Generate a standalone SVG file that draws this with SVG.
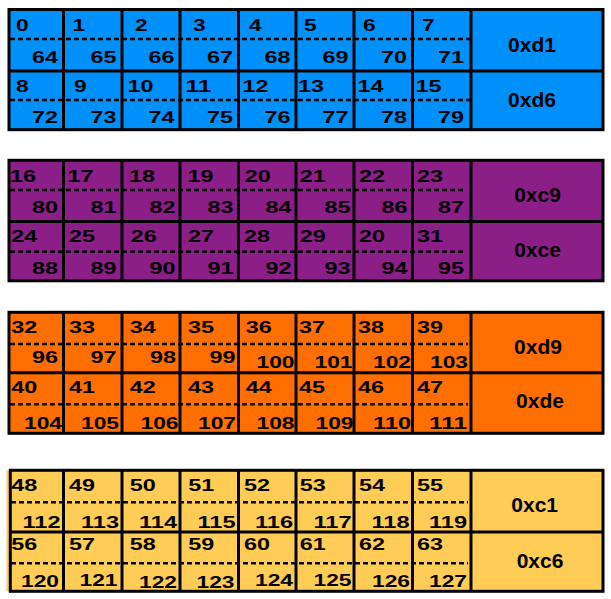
<svg xmlns="http://www.w3.org/2000/svg" width="611" height="599" viewBox="0 0 611 599">
<style>
.num{font-family:"Liberation Sans",Arial,Helvetica,sans-serif;font-weight:bold;font-size:17px;fill:#000}
.end{text-anchor:end}
.lbl{font-family:"Liberation Sans",Arial,Helvetica,sans-serif;font-weight:bold;font-size:21px;fill:#000;text-anchor:middle}
.frame{fill:none;stroke:#000;stroke-width:3}
.div{stroke:#000;stroke-width:3}
.dash{stroke:#000;stroke-width:2.5;stroke-dasharray:5 3}
</style>
<rect width="611" height="599" fill="#fff"/>

<!-- BLUE -->
<g id="block-blue">
<rect x="9" y="9.5" width="594" height="120.2" fill="#0090FA"/>
<g id="grid-blue">
<line class="div" x1="9" y1="71" x2="603" y2="71"/>
<line class="div" x1="63.5" y1="9.5" x2="63.5" y2="129.7"/>
<line class="div" x1="122" y1="9.5" x2="122" y2="129.7"/>
<line class="div" x1="180" y1="9.5" x2="180" y2="129.7"/>
<line class="div" x1="238.5" y1="9.5" x2="238.5" y2="129.7"/>
<line class="div" x1="296" y1="9.5" x2="296" y2="129.7"/>
<line class="div" x1="354" y1="9.5" x2="354" y2="129.7"/>
<line class="div" x1="412.5" y1="9.5" x2="412.5" y2="129.7"/>
<line class="div" x1="471" y1="9.5" x2="471" y2="129.7"/>
<line class="dash" x1="10" y1="39" x2="470" y2="39"/>
<line class="dash" x1="10" y1="100" x2="470" y2="100"/>
<rect class="frame" x="9" y="9.5" width="594" height="120.2"/>
</g>
<g id="cell-0"><text class="num" x="16" y="30.7" textLength="12.7" lengthAdjust="spacingAndGlyphs">0</text><text class="num end" x="58" y="63" textLength="26" lengthAdjust="spacingAndGlyphs">64</text></g>
<g id="cell-1"><text class="num" x="72.5" y="30.7" textLength="12.7" lengthAdjust="spacingAndGlyphs">1</text><text class="num end" x="116.5" y="63" textLength="26" lengthAdjust="spacingAndGlyphs">65</text></g>
<g id="cell-2"><text class="num" x="135" y="30.7" textLength="12.7" lengthAdjust="spacingAndGlyphs">2</text><text class="num end" x="174.5" y="63" textLength="26" lengthAdjust="spacingAndGlyphs">66</text></g>
<g id="cell-3"><text class="num" x="193" y="30.7" textLength="12.7" lengthAdjust="spacingAndGlyphs">3</text><text class="num end" x="233" y="63" textLength="26" lengthAdjust="spacingAndGlyphs">67</text></g>
<g id="cell-4"><text class="num" x="249" y="30.7" textLength="12.7" lengthAdjust="spacingAndGlyphs">4</text><text class="num end" x="290.5" y="63" textLength="26" lengthAdjust="spacingAndGlyphs">68</text></g>
<g id="cell-5"><text class="num" x="304" y="30.7" textLength="12.7" lengthAdjust="spacingAndGlyphs">5</text><text class="num end" x="348.5" y="63" textLength="26" lengthAdjust="spacingAndGlyphs">69</text></g>
<g id="cell-6"><text class="num" x="363" y="30.7" textLength="12.7" lengthAdjust="spacingAndGlyphs">6</text><text class="num end" x="407" y="63" textLength="26" lengthAdjust="spacingAndGlyphs">70</text></g>
<g id="cell-7"><text class="num" x="422" y="30.7" textLength="12.7" lengthAdjust="spacingAndGlyphs">7</text><text class="num end" x="464" y="63" textLength="26" lengthAdjust="spacingAndGlyphs">71</text></g>
<g id="cell-8"><text class="num" x="16" y="91.7" textLength="12.7" lengthAdjust="spacingAndGlyphs">8</text><text class="num end" x="58" y="123" textLength="26" lengthAdjust="spacingAndGlyphs">72</text></g>
<g id="cell-9"><text class="num" x="74" y="91.7" textLength="12.7" lengthAdjust="spacingAndGlyphs">9</text><text class="num end" x="116.5" y="123" textLength="26" lengthAdjust="spacingAndGlyphs">73</text></g>
<g id="cell-10"><text class="num" x="127.5" y="91.7" textLength="26" lengthAdjust="spacingAndGlyphs">10</text><text class="num end" x="174.5" y="123" textLength="26" lengthAdjust="spacingAndGlyphs">74</text></g>
<g id="cell-11"><text class="num" x="185.5" y="91.7" textLength="26" lengthAdjust="spacingAndGlyphs">11</text><text class="num end" x="233" y="123" textLength="26" lengthAdjust="spacingAndGlyphs">75</text></g>
<g id="cell-12"><text class="num" x="242.5" y="91.7" textLength="26" lengthAdjust="spacingAndGlyphs">12</text><text class="num end" x="290.5" y="123" textLength="26" lengthAdjust="spacingAndGlyphs">76</text></g>
<g id="cell-13"><text class="num" x="298" y="91.7" textLength="26" lengthAdjust="spacingAndGlyphs">13</text><text class="num end" x="348.5" y="123" textLength="26" lengthAdjust="spacingAndGlyphs">77</text></g>
<g id="cell-14"><text class="num" x="357.5" y="91.7" textLength="26" lengthAdjust="spacingAndGlyphs">14</text><text class="num end" x="407" y="123" textLength="26" lengthAdjust="spacingAndGlyphs">78</text></g>
<g id="cell-15"><text class="num" x="415.5" y="91.7" textLength="26" lengthAdjust="spacingAndGlyphs">15</text><text class="num end" x="464" y="123" textLength="26" lengthAdjust="spacingAndGlyphs">79</text></g>
<g id="label-0xd1"><text class="lbl" x="532" y="51.7">0xd1</text></g>
<g id="label-0xd6"><text class="lbl" x="532" y="106.5">0xd6</text></g>
</g>

<!-- PURPLE -->
<g id="block-purple">
<rect x="9" y="160.3" width="594" height="120.5" fill="#8C1E87"/>
<g id="grid-purple">
<line class="div" x1="9" y1="221.5" x2="603" y2="221.5"/>
<line class="div" x1="63.5" y1="160.3" x2="63.5" y2="280.8"/>
<line class="div" x1="122" y1="160.3" x2="122" y2="280.8"/>
<line class="div" x1="180" y1="160.3" x2="180" y2="280.8"/>
<line class="div" x1="238.5" y1="160.3" x2="238.5" y2="280.8"/>
<line class="div" x1="296" y1="160.3" x2="296" y2="280.8"/>
<line class="div" x1="354" y1="160.3" x2="354" y2="280.8"/>
<line class="div" x1="412.5" y1="160.3" x2="412.5" y2="280.8"/>
<line class="div" x1="471" y1="160.3" x2="471" y2="280.8"/>
<line class="dash" x1="10" y1="190" x2="466" y2="190"/>
<line class="dash" x1="10" y1="251.7" x2="466" y2="251.7"/>
<rect class="frame" x="9" y="160.3" width="594" height="120.5"/>
</g>
<g id="cell-16"><text class="num" x="10" y="182.3" textLength="26" lengthAdjust="spacingAndGlyphs">16</text><text class="num end" x="58" y="213.3" textLength="26" lengthAdjust="spacingAndGlyphs">80</text></g>
<g id="cell-17"><text class="num" x="67.5" y="182.3" textLength="26" lengthAdjust="spacingAndGlyphs">17</text><text class="num end" x="116.5" y="213.3" textLength="26" lengthAdjust="spacingAndGlyphs">81</text></g>
<g id="cell-18"><text class="num" x="129" y="182.3" textLength="26" lengthAdjust="spacingAndGlyphs">18</text><text class="num end" x="175.5" y="213.3" textLength="26" lengthAdjust="spacingAndGlyphs">82</text></g>
<g id="cell-19"><text class="num" x="187.5" y="182.3" textLength="26" lengthAdjust="spacingAndGlyphs">19</text><text class="num end" x="233.5" y="213.3" textLength="26" lengthAdjust="spacingAndGlyphs">83</text></g>
<g id="cell-20"><text class="num" x="244.7" y="182.3" textLength="26" lengthAdjust="spacingAndGlyphs">20</text><text class="num end" x="291.5" y="213.3" textLength="26" lengthAdjust="spacingAndGlyphs">84</text></g>
<g id="cell-21"><text class="num" x="299.7" y="182.3" textLength="26" lengthAdjust="spacingAndGlyphs">21</text><text class="num end" x="350.5" y="213.3" textLength="26" lengthAdjust="spacingAndGlyphs">85</text></g>
<g id="cell-22"><text class="num" x="359" y="182.3" textLength="26" lengthAdjust="spacingAndGlyphs">22</text><text class="num end" x="407.5" y="213.3" textLength="26" lengthAdjust="spacingAndGlyphs">86</text></g>
<g id="cell-23"><text class="num" x="417" y="182.3" textLength="26" lengthAdjust="spacingAndGlyphs">23</text><text class="num end" x="464" y="213.3" textLength="26" lengthAdjust="spacingAndGlyphs">87</text></g>
<g id="cell-24"><text class="num" x="11.3" y="242.3" textLength="26" lengthAdjust="spacingAndGlyphs">24</text><text class="num end" x="58" y="274" textLength="26" lengthAdjust="spacingAndGlyphs">88</text></g>
<g id="cell-25"><text class="num" x="69" y="242.3" textLength="26" lengthAdjust="spacingAndGlyphs">25</text><text class="num end" x="116.5" y="274" textLength="26" lengthAdjust="spacingAndGlyphs">89</text></g>
<g id="cell-26"><text class="num" x="130.7" y="242.3" textLength="26" lengthAdjust="spacingAndGlyphs">26</text><text class="num end" x="175.5" y="274" textLength="26" lengthAdjust="spacingAndGlyphs">90</text></g>
<g id="cell-27"><text class="num" x="188" y="242.3" textLength="26" lengthAdjust="spacingAndGlyphs">27</text><text class="num end" x="233.5" y="274" textLength="26" lengthAdjust="spacingAndGlyphs">91</text></g>
<g id="cell-28"><text class="num" x="244" y="242.3" textLength="26" lengthAdjust="spacingAndGlyphs">28</text><text class="num end" x="291.5" y="274" textLength="26" lengthAdjust="spacingAndGlyphs">92</text></g>
<g id="cell-29"><text class="num" x="299.7" y="242.3" textLength="26" lengthAdjust="spacingAndGlyphs">29</text><text class="num end" x="350.5" y="274" textLength="26" lengthAdjust="spacingAndGlyphs">93</text></g>
<g id="cell-30"><text class="num" x="359" y="242.3" textLength="26" lengthAdjust="spacingAndGlyphs">20</text><text class="num end" x="407.5" y="274" textLength="26" lengthAdjust="spacingAndGlyphs">94</text></g>
<g id="cell-31"><text class="num" x="417" y="242.3" textLength="26" lengthAdjust="spacingAndGlyphs">31</text><text class="num end" x="464" y="274" textLength="26" lengthAdjust="spacingAndGlyphs">95</text></g>
<g id="label-0xc9"><text class="lbl" x="537.5" y="201.7">0xc9</text></g>
<g id="label-0xce"><text class="lbl" x="537.5" y="256.7">0xce</text></g>
</g>

<!-- ORANGE -->
<g id="block-orange">
<rect x="9" y="312.3" width="594" height="121" fill="#FF6E00"/>
<g id="grid-orange">
<line class="div" x1="9" y1="372.8" x2="603" y2="372.8"/>
<line class="div" x1="63.5" y1="312.3" x2="63.5" y2="433.3"/>
<line class="div" x1="122" y1="312.3" x2="122" y2="433.3"/>
<line class="div" x1="180" y1="312.3" x2="180" y2="433.3"/>
<line class="div" x1="238.5" y1="312.3" x2="238.5" y2="433.3"/>
<line class="div" x1="296" y1="312.3" x2="296" y2="433.3"/>
<line class="div" x1="354" y1="312.3" x2="354" y2="433.3"/>
<line class="div" x1="412.5" y1="312.3" x2="412.5" y2="433.3"/>
<line class="div" x1="471" y1="312.3" x2="471" y2="433.3"/>
<line class="dash" x1="10" y1="344" x2="468" y2="344"/>
<line class="dash" x1="10" y1="404.3" x2="468" y2="404.3"/>
<rect class="frame" x="9" y="312.3" width="594" height="121"/>
</g>
<g id="cell-32"><text class="num" x="11.3" y="333.3" textLength="26" lengthAdjust="spacingAndGlyphs">32</text><text class="num end" x="58" y="363.3" textLength="26" lengthAdjust="spacingAndGlyphs">96</text></g>
<g id="cell-33"><text class="num" x="69" y="333.3" textLength="26" lengthAdjust="spacingAndGlyphs">33</text><text class="num end" x="116.5" y="363.3" textLength="26" lengthAdjust="spacingAndGlyphs">97</text></g>
<g id="cell-34"><text class="num" x="129.7" y="333.3" textLength="26" lengthAdjust="spacingAndGlyphs">34</text><text class="num end" x="176" y="363.3" textLength="26" lengthAdjust="spacingAndGlyphs">98</text></g>
<g id="cell-35"><text class="num" x="188" y="333.3" textLength="26" lengthAdjust="spacingAndGlyphs">35</text><text class="num end" x="235.5" y="363.3" textLength="26" lengthAdjust="spacingAndGlyphs">99</text></g>
<g id="cell-36"><text class="num" x="245.7" y="333.3" textLength="26" lengthAdjust="spacingAndGlyphs">36</text><text class="num end" x="294.5" y="368" textLength="38" lengthAdjust="spacingAndGlyphs">100</text></g>
<g id="cell-37"><text class="num" x="299" y="333.3" textLength="26" lengthAdjust="spacingAndGlyphs">37</text><text class="num end" x="352.5" y="368" textLength="38" lengthAdjust="spacingAndGlyphs">101</text></g>
<g id="cell-38"><text class="num" x="358" y="333.3" textLength="26" lengthAdjust="spacingAndGlyphs">38</text><text class="num end" x="411" y="368" textLength="38" lengthAdjust="spacingAndGlyphs">102</text></g>
<g id="cell-39"><text class="num" x="417" y="333.3" textLength="26" lengthAdjust="spacingAndGlyphs">39</text><text class="num end" x="468" y="368" textLength="38" lengthAdjust="spacingAndGlyphs">103</text></g>
<g id="cell-40"><text class="num" x="11.3" y="393.3" textLength="26" lengthAdjust="spacingAndGlyphs">40</text><text class="num end" x="62" y="429" textLength="38" lengthAdjust="spacingAndGlyphs">104</text></g>
<g id="cell-41"><text class="num" x="69" y="393.3" textLength="26" lengthAdjust="spacingAndGlyphs">41</text><text class="num end" x="119" y="429" textLength="38" lengthAdjust="spacingAndGlyphs">105</text></g>
<g id="cell-42"><text class="num" x="129.7" y="393.3" textLength="26" lengthAdjust="spacingAndGlyphs">42</text><text class="num end" x="178.5" y="429" textLength="38" lengthAdjust="spacingAndGlyphs">106</text></g>
<g id="cell-43"><text class="num" x="188" y="393.3" textLength="26" lengthAdjust="spacingAndGlyphs">43</text><text class="num end" x="236" y="429" textLength="38" lengthAdjust="spacingAndGlyphs">107</text></g>
<g id="cell-44"><text class="num" x="245.7" y="393.3" textLength="26" lengthAdjust="spacingAndGlyphs">44</text><text class="num end" x="294.5" y="429" textLength="38" lengthAdjust="spacingAndGlyphs">108</text></g>
<g id="cell-45"><text class="num" x="299" y="393.3" textLength="26" lengthAdjust="spacingAndGlyphs">45</text><text class="num end" x="353.5" y="429" textLength="38" lengthAdjust="spacingAndGlyphs">109</text></g>
<g id="cell-46"><text class="num" x="358" y="393.3" textLength="26" lengthAdjust="spacingAndGlyphs">46</text><text class="num end" x="411" y="429" textLength="38" lengthAdjust="spacingAndGlyphs">110</text></g>
<g id="cell-47"><text class="num" x="417" y="393.3" textLength="26" lengthAdjust="spacingAndGlyphs">47</text><text class="num end" x="467" y="429" textLength="38" lengthAdjust="spacingAndGlyphs">111</text></g>
<g id="label-0xd9"><text class="lbl" x="538" y="354.3">0xd9</text></g>
<g id="label-0xde"><text class="lbl" x="540" y="408.3">0xde</text></g>
</g>

<!-- YELLOW -->
<g id="block-yellow">
<rect x="6.5" y="470.3" width="596.5" height="121" fill="#FFCC55"/>
<g id="grid-yellow">
<line class="div" x1="10.3" y1="532" x2="603" y2="532"/>
<line class="div" x1="63.5" y1="470.3" x2="63.5" y2="591.3"/>
<line class="div" x1="122" y1="470.3" x2="122" y2="591.3"/>
<line class="div" x1="180" y1="470.3" x2="180" y2="591.3"/>
<line class="div" x1="238.5" y1="470.3" x2="238.5" y2="591.3"/>
<line class="div" x1="296" y1="470.3" x2="296" y2="591.3"/>
<line class="div" x1="354" y1="470.3" x2="354" y2="591.3"/>
<line class="div" x1="412.5" y1="470.3" x2="412.5" y2="591.3"/>
<line class="div" x1="471" y1="470.3" x2="471" y2="591.3"/>
<line class="dash" x1="11" y1="502.3" x2="468" y2="502.3"/>
<line class="dash" x1="11" y1="563.3" x2="468" y2="563.3"/>
<rect class="frame" x="10.3" y="470.3" width="592.7" height="121"/>
</g>
<g id="cell-48"><text class="num" x="11.3" y="490.7" textLength="26" lengthAdjust="spacingAndGlyphs">48</text><text class="num end" x="60.5" y="528" textLength="38" lengthAdjust="spacingAndGlyphs">112</text></g>
<g id="cell-49"><text class="num" x="69" y="490.7" textLength="26" lengthAdjust="spacingAndGlyphs">49</text><text class="num end" x="119" y="528" textLength="38" lengthAdjust="spacingAndGlyphs">113</text></g>
<g id="cell-50"><text class="num" x="129.7" y="490.7" textLength="26" lengthAdjust="spacingAndGlyphs">50</text><text class="num end" x="177" y="528" textLength="38" lengthAdjust="spacingAndGlyphs">114</text></g>
<g id="cell-51"><text class="num" x="188.3" y="490.7" textLength="26" lengthAdjust="spacingAndGlyphs">51</text><text class="num end" x="235.5" y="528" textLength="38" lengthAdjust="spacingAndGlyphs">115</text></g>
<g id="cell-52"><text class="num" x="244" y="490.7" textLength="26" lengthAdjust="spacingAndGlyphs">52</text><text class="num end" x="293" y="528" textLength="38" lengthAdjust="spacingAndGlyphs">116</text></g>
<g id="cell-53"><text class="num" x="299.7" y="490.7" textLength="26" lengthAdjust="spacingAndGlyphs">53</text><text class="num end" x="351.5" y="528" textLength="38" lengthAdjust="spacingAndGlyphs">117</text></g>
<g id="cell-54"><text class="num" x="359" y="490.7" textLength="26" lengthAdjust="spacingAndGlyphs">54</text><text class="num end" x="409.5" y="528" textLength="38" lengthAdjust="spacingAndGlyphs">118</text></g>
<g id="cell-55"><text class="num" x="417" y="490.7" textLength="26" lengthAdjust="spacingAndGlyphs">55</text><text class="num end" x="467" y="528" textLength="38" lengthAdjust="spacingAndGlyphs">119</text></g>
<g id="cell-56"><text class="num" x="11.3" y="549.5" textLength="26" lengthAdjust="spacingAndGlyphs">56</text><text class="num end" x="59" y="587" textLength="38" lengthAdjust="spacingAndGlyphs">120</text></g>
<g id="cell-57"><text class="num" x="69" y="549.5" textLength="26" lengthAdjust="spacingAndGlyphs">57</text><text class="num end" x="117.5" y="586" textLength="38" lengthAdjust="spacingAndGlyphs">121</text></g>
<g id="cell-58"><text class="num" x="129.7" y="549.5" textLength="26" lengthAdjust="spacingAndGlyphs">58</text><text class="num end" x="177" y="587.5" textLength="38" lengthAdjust="spacingAndGlyphs">122</text></g>
<g id="cell-59"><text class="num" x="188.3" y="549.5" textLength="26" lengthAdjust="spacingAndGlyphs">59</text><text class="num end" x="234.5" y="588" textLength="38" lengthAdjust="spacingAndGlyphs">123</text></g>
<g id="cell-60"><text class="num" x="244" y="549.5" textLength="26" lengthAdjust="spacingAndGlyphs">60</text><text class="num end" x="293" y="586" textLength="38" lengthAdjust="spacingAndGlyphs">124</text></g>
<g id="cell-61"><text class="num" x="299.7" y="549.5" textLength="26" lengthAdjust="spacingAndGlyphs">61</text><text class="num end" x="351.5" y="586" textLength="38" lengthAdjust="spacingAndGlyphs">125</text></g>
<g id="cell-62"><text class="num" x="359" y="549.5" textLength="26" lengthAdjust="spacingAndGlyphs">62</text><text class="num end" x="410" y="586.5" textLength="38" lengthAdjust="spacingAndGlyphs">126</text></g>
<g id="cell-63"><text class="num" x="417" y="549.5" textLength="26" lengthAdjust="spacingAndGlyphs">63</text><text class="num end" x="467" y="586.5" textLength="38" lengthAdjust="spacingAndGlyphs">127</text></g>
<g id="label-0xc1"><text class="lbl" x="534.7" y="511.7">0xc1</text></g>
<g id="label-0xc6"><text class="lbl" x="540" y="568.3">0xc6</text></g>
</g>
</svg>
